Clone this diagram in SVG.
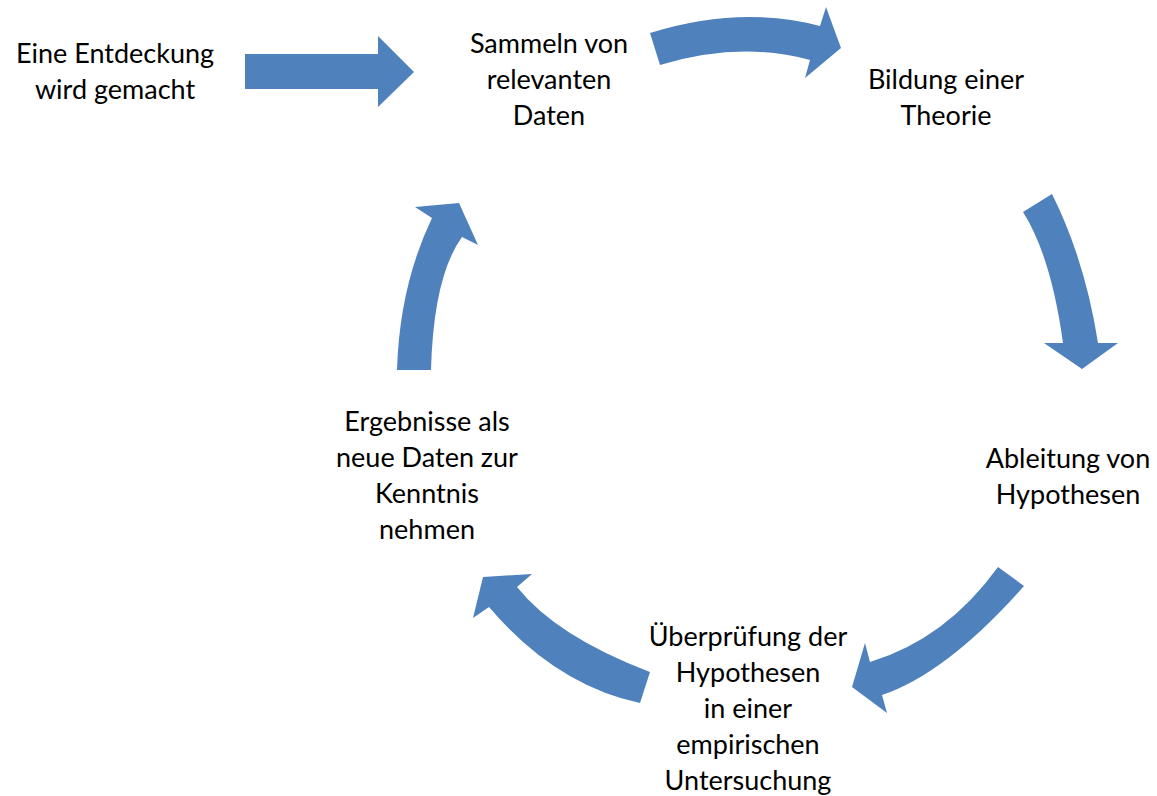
<svg xmlns="http://www.w3.org/2000/svg" width="1157" height="796" viewBox="0 0 1157 796">
<style>
.a{fill:#4f81bd}
text{font-family:Lato,"Open Sans",sans-serif;font-size:27px;fill:#000;text-anchor:middle}
</style>
<rect width="1157" height="796" fill="#fff"/>
<g id="connectors">
<path class="a" d="M245,54 L378,54 L378,36 L414,72 L378,107 L378,89 L245,89 Z"/>
<path class="a" d="M650,33 Q740,5 820,26 L826,7 L841,48 L805,78 L810,60 Q740,41 660,65 Z"/>
<path class="a" d="M1052,194 Q1085,260 1098,343 L1118,343 L1082,369 L1044,343 L1063,343 Q1051,256 1023,212 Z"/>
<path class="a" d="M1024,586 Q947,673 882,695 L887,713 L852,687 L865,643 L870,662 Q946,639 998,567 Z"/>
<path class="a" d="M650,672 Q556.5,636.5 517,587 L532,574 L483,577 L473,618 L489,607 Q555.5,685 640,703 Z"/>
<path class="a" d="M431,370 Q433.5,276.5 462,237 L478,245 L459,203 L415,207 L432,218 Q399.5,286 397,370 Z"/>
</g>
<g id="n1"><text x="115" y="63">Eine Entdeckung</text><text x="115" y="99">wird gemacht</text></g>
<g id="n2"><text x="549" y="53">Sammeln von</text><text x="549" y="89">relevanten</text><text x="549" y="125">Daten</text></g>
<g id="n3"><text x="946" y="89">Bildung einer</text><text x="946" y="125">Theorie</text></g>
<g id="n4"><text x="1068" y="468">Ableitung von</text><text x="1068" y="504">Hypothesen</text></g>
<g id="n5"><text x="748" y="646">Überprüfung der</text><text x="748" y="682">Hypothesen</text><text x="748" y="718">in einer</text><text x="748" y="754">empirischen</text><text x="748" y="790">Untersuchung</text></g>
<g id="n6"><text x="427" y="431">Ergebnisse als</text><text x="427" y="467">neue Daten zur</text><text x="427" y="503">Kenntnis</text><text x="427" y="539">nehmen</text></g>
</svg>
